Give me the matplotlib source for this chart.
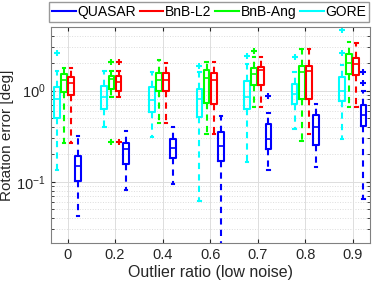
import matplotlib
matplotlib.use('Agg')
import matplotlib.pyplot as plt
from matplotlib.lines import Line2D

plt.rcParams['font.family'] = ['Liberation Sans', 'DejaVu Sans']

# Outlier ratio groups (x tick labels)
ratios = ['0', '0.2', '0.4', '0.6', '0.7', '0.8', '0.9']

# Box statistics, one list entry per outlier ratio
gore_q1 = [0.505, 0.632, 0.581, 0.513, 0.627, 0.705, 0.76]
gore_med = [0.81, 0.846, 0.798, 0.81, 0.86, 0.92, 1.0]
gore_q3 = [1.09, 1.12, 1.087, 1.04, 1.26, 1.18, 1.40]
gore_lo = [0.133, 0.40, 0.311, 0.061, 0.166, 0.383, 0.295]
gore_hi = [1.65, 1.65, 1.58, 1.58, 1.95, 1.58, 1.91]
gore_out = [[2.61], [], [], [1.84], [2.4], [2.34], [2.6, 4.68]]

ang_q1 = [0.96, 1.04, 1.0, 0.728, 1.16, 0.81, 1.52]
ang_med = [1.31, 1.34, 1.32, 1.37, 1.52, 1.58, 2.02]
ang_q3 = [1.52, 1.43, 1.556, 1.69, 1.76, 1.87, 2.51]
ang_lo = [0.263, 0.86, 0.442, 0.338, 0.659, 0.279, 0.66]
ang_hi = [1.76, 1.65, 2.15, 2.08, 2.34, 2.84, 3.43]
ang_out = [[], [2.08, 0.274], [], [], [2.72], [], []]

l2_q1 = [0.90, 0.983, 0.984, 0.716, 1.16, 0.81, 1.48]
l2_med = [1.20, 1.23, 1.31, 1.31, 1.68, 1.65, 1.94]
l2_q3 = [1.42, 1.46, 1.54, 1.54, 1.82, 1.87, 2.29]
l2_lo = [0.263, 0.86, 0.442, 0.338, 0.659, 0.338, 0.66]
l2_hi = [1.76, 1.65, 2.01, 2.08, 2.34, 2.84, 3.34]
l2_out = [[], [2.08, 0.274], [], [], [], [], []]

quasar_q1 = [0.101, 0.157, 0.181, 0.169, 0.228, 0.252, 0.412]
quasar_med = [0.147, 0.226, 0.232, 0.246, 0.291, 0.40, 0.533]
quasar_q3 = [0.193, 0.268, 0.291, 0.347, 0.427, 0.535, 0.686]
quasar_lo = [0.042, 0.0805, 0.094, 0.015, 0.135, 0.144, 0.064]
quasar_hi = [0.319, 0.361, 0.40, 0.521, 0.567, 0.716, 0.99]
quasar_out = [[], [], [], [], [0.868], [], [1.61, 1.2]]

# (name, colour, offset within group, stats)
methods = [
    ('GORE', '#00FFFF', -0.225, gore_q1, gore_med, gore_q3, gore_lo, gore_hi, gore_out),
    ('BnB-Ang', '#00FF00', -0.075, ang_q1, ang_med, ang_q3, ang_lo, ang_hi, ang_out),
    ('BnB-L2', '#FF0000', 0.075, l2_q1, l2_med, l2_q3, l2_lo, l2_hi, l2_out),
    ('QUASAR', '#0000FF', 0.225, quasar_q1, quasar_med, quasar_q3, quasar_lo, quasar_hi, quasar_out),
]

fig = plt.figure(figsize=(3.74, 2.83), dpi=100)
ax = fig.add_axes([0.136, 0.141, 0.853, 0.764])

for name, col, off, q1, med, q3, lo, hi, out in methods:
    stats = [dict(q1=a, med=m, q3=b, whislo=l, whishi=h, fliers=f)
             for a, m, b, l, h, f in zip(q1, med, q3, lo, hi, out)]
    pos = [i + 1 + off for i in range(len(ratios))]
    ax.bxp(stats, positions=pos, widths=0.12, capwidths=0.05,
           showfliers=True, manage_ticks=False,
           boxprops=dict(color=col, linewidth=1.5),
           medianprops=dict(color=col, linewidth=1.2),
           whiskerprops=dict(color=col, linewidth=1.5, linestyle=(0, (3, 2.5))),
           capprops=dict(color=col, linewidth=1.5),
           flierprops=dict(marker='+', markeredgecolor=col, markersize=4,
                           markeredgewidth=1.5, linestyle='none'))

ax.set_yscale('log')
ax.set_ylim(0.0212, 5.0)
ax.set_xlim(0.65, 7.36)
ax.set_xticks(range(1, len(ratios) + 1))
ax.set_xticklabels(ratios)

ax.grid(True, which='major', color='#DDDDDD', linewidth=0.7)
ax.grid(True, which='minor', axis='y', color='#DDDDDD', linestyle=':', linewidth=0.7)
ax.set_axisbelow(True)
ax.tick_params(which='both', direction='in', top=True, right=True,
               labelsize=10.5, colors='#262626', length=3)
ax.tick_params(which='minor', length=2)
for s in ax.spines.values():
    s.set_color('#808080')
    s.set_linewidth(0.8)

ax.set_xlabel('Outlier ratio (low noise)', fontsize=11.5, color='#262626', labelpad=2)
ax.set_ylabel('Rotation error [deg]', fontsize=11, color='#262626', labelpad=2)

order = ['QUASAR', 'BnB-L2', 'BnB-Ang', 'GORE']
cols = {m[0]: m[1] for m in methods}
handles = [Line2D([], [], color=cols[n], linewidth=1.5) for n in order]
fig.legend(handles, order, loc='upper center', ncol=4,
           bbox_to_anchor=(0.559, 0.993), fontsize=10, frameon=True,
           fancybox=False, edgecolor='#808080', handlelength=1.7,
           handletextpad=0.1, columnspacing=0.3, borderpad=0.2,
           borderaxespad=0.0)

fig.savefig('out.png', dpi=100, facecolor='white')
